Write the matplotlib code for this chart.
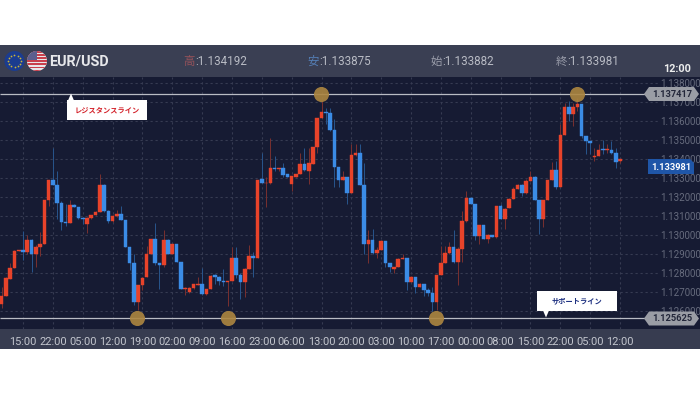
#!/usr/bin/env python3
# -*- coding: utf-8 -*-
import numpy as np
from matplotlib import pyplot as plt
from matplotlib.patches import Circle, Polygon, Rectangle

plt.rcParams['font.family'] = ['Roboto', 'Noto Sans CJK JP', 'DejaVu Sans']

# prices in 1e-5 units
opens = [112639,112681,112771,112827,112914,112921,112912,112973,112903,112938,
         112955,113187,113291,113265,113171,113068,113065,113159,113147,113091,
         113056,113091,113105,113124,113263,113126,113074,113098,113112,113081,
         112935,112855,112646,112738,112778,112903,112978,112855,112842,112976,
         112903,112952,112858,112715,112700,112721,112738,112743,112689,112717,
         112790,112782,112761,112755,112761,112882,112788,112754,112822,112889,
         112881,113296,113272,113275,113355,113345,113355,113319,113268,113307,
         113321,113373,113338,113376,113463,113616,113646,113642,113552,113359,
         113289,113307,113220,113421,113434,113263,112952,112976,112907,112924,
         112968,112855,112820,112830,112875,112879,112755,112782,112726,112743,
         112712,112695,112646,112788,112851,112908,112935,112860,112926,113072,
         113195,113164,112995,113051,112981,113002,112990,113155,113086,113142,
         113190,113242,113263,113221,113286,113307,113182,113082,113187,113291,
         113342,113255,113526,113672,113637,113672,113691,113521,113495,113408,
         113416,113451,113449,113448,113434,113387]
closes = [112681,112773,112827,112915,112921,112912,112973,112903,112938,112955,
          113187,113291,113265,113171,113068,113065,113159,113150,113091,113082,
          113091,113105,113121,113263,113126,113074,113098,113112,113081,112935,
          112855,112646,112738,112776,112903,112978,112855,112842,112973,112903,
          112952,112858,112717,112721,112721,112742,112743,112689,112715,112787,
          112782,112761,112755,112761,112882,112788,112754,112822,112889,112881,
          113289,113275,113275,113355,113345,113355,113317,113307,113312,113321,
          113373,113340,113381,113463,113616,113646,113641,113552,113359,113290,
          113307,113221,113421,113434,113263,112952,112976,112907,112924,112968,
          112855,112830,112830,112875,112879,112755,112782,112726,112743,112712,
          112695,112646,112788,112851,112908,112935,112860,112926,113072,113195,
          113164,112995,113051,112981,113002,112990,113155,113086,113138,113190,
          113242,113263,113221,113286,113307,113182,113082,113187,113291,113342,
          113255,113526,113672,113637,113672,113691,113521,113495,113482,113416,
          113446,113448,113451,113434,113385,113398]
highs = [112729,112782,112851,112921,112924,113021,113000,112981,112947,113016,
         113187,113291,113458,113338,113181,113164,113185,113164,113150,113095,
         113095,113105,113129,113321,113268,113133,113103,113133,113155,113081,
         112938,112903,112738,112782,112942,112981,113065,112855,113028,112981,
         112952,112952,112858,112726,112726,112743,112778,112825,112715,112790,
         112794,112785,112820,112761,112935,112935,112802,112825,112947,112912,
         113289,113434,113303,113512,113416,113355,113381,113319,113312,113321,
         113434,113460,113460,113463,113616,113703,113668,113668,113608,113359,
         113338,113307,113477,113481,113481,113381,113028,113034,112935,112973,
         112968,112855,112830,112877,112900,112882,112785,112782,112747,112743,
         112721,112726,112788,112942,112942,112964,113029,112938,113129,113234,
         113199,113164,113051,113051,113008,113002,113155,113164,113142,113195,
         113251,113268,113268,113295,113338,113312,113182,113187,113291,113382,
         113390,113582,113695,113703,113695,113721,113691,113521,113495,113460,
         113477,113498,113477,113494,113460,113399]
lows = [112616,112681,112771,112825,112914,112868,112903,112808,112834,112889,
        112955,113155,113265,113086,113025,113046,113065,113150,113086,113060,
        113011,113086,113103,113121,113121,113063,113068,113095,113077,112935,
        112816,112634,112604,112712,112778,112903,112842,112715,112834,112903,
        112903,112858,112717,112686,112698,112719,112738,112686,112686,112715,
        112743,112738,112733,112625,112761,112773,112663,112677,112822,112782,
        112881,113275,113150,113268,113338,113338,113307,113307,113234,113307,
        113321,113338,113268,113373,113434,113616,113582,113547,113251,113251,
        113289,113164,113220,113416,113263,112903,112855,112903,112877,112921,
        112834,112808,112802,112830,112875,112709,112755,112698,112726,112681,
        112681,112599,112608,112788,112851,112903,112855,112738,112860,113068,
        113164,112973,112952,112981,112959,112990,112987,113082,113034,113142,
        113190,113242,113208,113216,113286,113182,113008,113042,113187,113291,
        113242,113255,113526,113599,113573,113651,113512,113425,113425,113390,
        113416,113425,113434,113425,113355,113381]

time_labels = ['15:00', '22:00', '05:00', '12:00', '19:00', '02:00', '09:00',
               '16:00', '23:00', '06:00', '13:00', '20:00', '03:00', '10:00',
               '17:00', '00:00', '08:00', '15:00', '22:00', '05:00', '12:00']
price_ticks = [1.138, 1.137, 1.136, 1.135, 1.134, 1.133, 1.132, 1.131, 1.130,
               1.129, 1.128, 1.127, 1.126]
resistance = 1.137417
support = 1.125625
last_price = 1.133981
res_touch = [74.8, 135]
sup_touch = [31.7, 53.1, 101.8]
header = [('高', '#96525a', '1.134192', 197), ('安', '#5580b8', '1.133875', 321),
          ('始', '#9a9daa', '1.133882', 444), ('終', '#9a9daa', '1.133981', 569)]

BG = '#161b33'
BAR = '#373c50'
UP = '#e8432a'
DOWN = '#3b8ce6'

o = np.array(opens) / 1e5
c = np.array(closes) / 1e5
h = np.array(highs) / 1e5
l = np.array(lows) / 1e5
idx = np.arange(len(o))
up = c >= o

fig = plt.figure(figsize=(7, 3.94), dpi=100, facecolor='white')
fig.patches.append(Rectangle((0, 45 / 394), 1, 304 / 394, transform=fig.transFigure,
                             facecolor=BAR, edgecolor='none', zorder=-1))

ax = fig.add_axes([0, 65 / 394, 1, 252 / 394], facecolor=BG)
ax.set_xlim(-0.4, 163.76)
ax.set_ylim(1.125061, 1.138313)
for s in ax.spines.values():
    s.set_visible(False)

# grid
xt = 5 + 7 * np.arange(len(time_labels))
ax.vlines(xt, 1.125061, 1.138313, color='#363b52', lw=0.8, ls=(0, (2, 2.5)), zorder=1)
ax.hlines(price_ticks, -0.4, 154.4, color='#363b52', lw=0.8, ls=(0, (2, 2.5)), zorder=1)

# candles
ax.vlines(idx[up], l[up], h[up], color='#7a302f', lw=0.7, zorder=2)
ax.vlines(idx[~up], l[~up], h[~up], color='#28558c', lw=0.7, zorder=2)
ax.bar(idx[up], (c - o)[up], bottom=o[up], width=0.84, color=UP, edgecolor=UP, lw=0.3, zorder=3)
ax.bar(idx[~up], (c - o)[~up], bottom=o[~up], width=0.84, color=DOWN, edgecolor=DOWN, lw=0.3, zorder=3)

# resistance / support
ax.hlines([resistance, support], -0.4, 153, color='#b9bcc4', lw=0.9, zorder=4)
ax.scatter(res_touch, [resistance] * len(res_touch), s=118, color='#ad8640', alpha=0.9,
           lw=0, zorder=5)
ax.scatter(sup_touch, [support] * len(sup_touch), s=118, color='#ad8640', alpha=0.9,
           lw=0, zorder=5)

ax.set_xticks(xt, time_labels)
ax.yaxis.tick_right()
ax.set_yticks(price_ticks, ['%.6f' % p for p in price_ticks])
ax.tick_params(axis='x', length=0, pad=6, labelsize=7.9, labelcolor='#c3c6ce')
ax.tick_params(axis='y', length=0, pad=-28.5, labelsize=7.0, labelcolor='#666b7d')

# overlay in pixels for the header, flags, tags and callouts
ov = fig.add_axes([0, 0, 1, 1], facecolor='none')
ov.set_xlim(0, 700)
ov.set_ylim(394, 0)
ov.axis('off')

ov.add_patch(Rectangle((0, 45), 700, 32, facecolor='#3a3f53', edgecolor='none'))

# EU flag
ov.add_patch(Circle((14.5, 61), 10, facecolor='#1b3c8f', edgecolor='none'))
ang = np.arange(12) * np.pi / 6
ov.scatter(14.5 + 6.3 * np.cos(ang), 61 + 6.3 * np.sin(ang), s=1.6, color='#c9b53a', lw=0)

# US flag
us = Circle((37, 61), 10, facecolor='#e8e6e8', edgecolor='none')
ov.add_patch(us)
for k in range(7):
    r = Rectangle((26, 51 + k * 3.1), 22, 1.6, facecolor='#c8404c', edgecolor='none')
    ov.add_patch(r)
    r.set_clip_path(us)
canton = Rectangle((26, 50), 11, 10, facecolor='#5c5f8e', edgecolor='none')
ov.add_patch(canton)
canton.set_clip_path(us)

ov.text(49, 61.5, 'EUR/USD', color='#e6e7ea', fontsize=10.4, fontweight='bold',
        ha='left', va='center')
for kanji, col, val, xpos in header:
    ov.text(xpos - 2, 61.5, kanji, color=col, fontsize=8.2, ha='right', va='center')
    ov.text(xpos - 2, 61.5, ':' + val, color='#b9bcc5', fontsize=8.4, ha='left', va='center')
ov.text(677, 69, '12:00', color='#eceded', fontsize=7.8, fontweight='bold', ha='center', va='center')

# price tags
for y0 in (94, 318.5):
    ov.add_patch(Polygon([(644, y0), (649, y0 - 7), (694, y0 - 7), (699, y0),
                          (694, y0 + 7), (649, y0 + 7)], facecolor='#9a9da5', edgecolor='none'))
ov.text(672, 94.3, '%.6f' % resistance, color='#23273a', fontsize=6.7, fontweight='bold',
        ha='center', va='center')
ov.text(672, 318.8, '%.6f' % support, color='#23273a', fontsize=6.7, fontweight='bold',
        ha='center', va='center')
ov.add_patch(Polygon([(648, 159), (690, 159), (694, 163), (694, 174), (648, 174)],
                     facecolor='#1f56a8', edgecolor='none'))
ov.text(671, 167, '%.6f' % last_price, color='white', fontsize=6.7, fontweight='bold',
        ha='center', va='center')

# callouts
ov.add_patch(Rectangle((67, 100), 80, 20, facecolor='white', edgecolor='none'))
ov.add_patch(Polygon([(68, 100.5), (71, 93.5), (74, 100.5)], facecolor='white', edgecolor='none'))
ov.text(107, 110, 'レジスタンスライン', color='#d4232b', fontsize=5.2, fontweight='bold',
        ha='center', va='center')
ov.add_patch(Rectangle((537, 291), 80, 20, facecolor='white', edgecolor='none'))
ov.add_patch(Polygon([(543, 310.5), (546, 317.5), (549, 310.5)], facecolor='white', edgecolor='none'))
ov.text(577, 301, 'サポートライン', color='#1c2f80', fontsize=5.2, fontweight='bold',
        ha='center', va='center')

fig.savefig('out.png', dpi=100, facecolor='white')
